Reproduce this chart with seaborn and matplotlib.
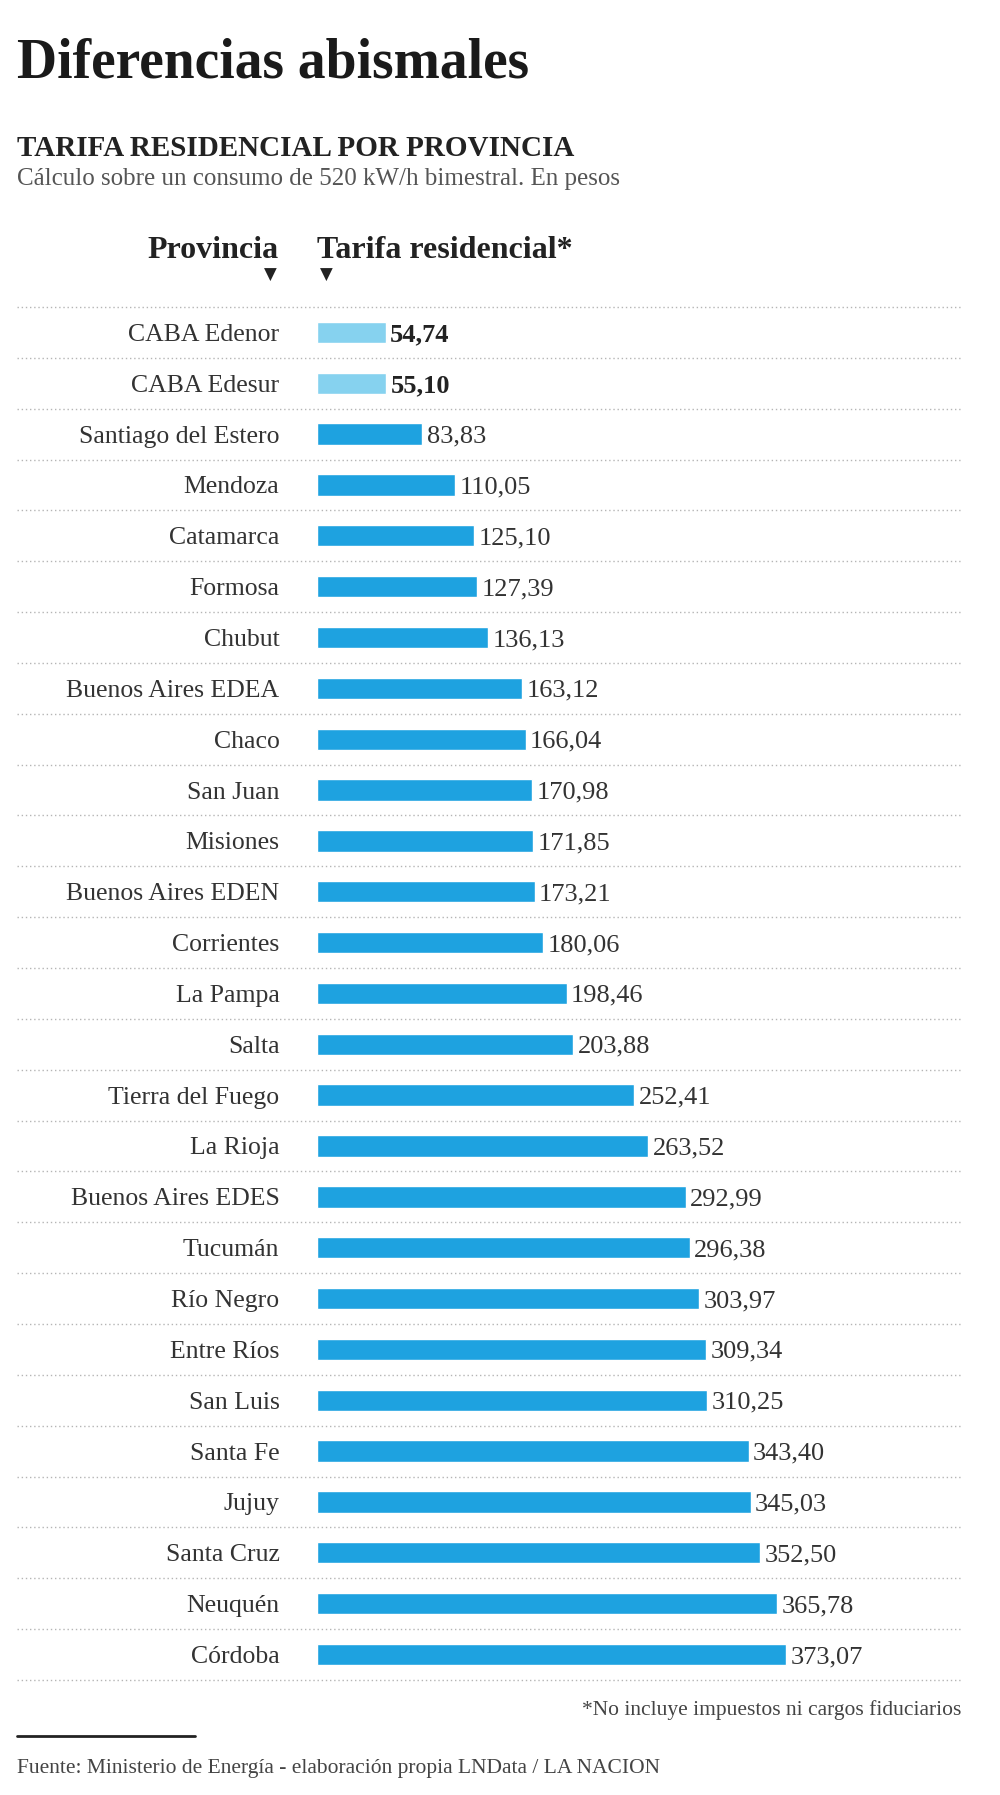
import pandas as pd
import seaborn as sns
import matplotlib.pyplot as plt

# Datos
provincias = ['CABA Edenor', 'CABA Edesur', 'Santiago del Estero', 'Mendoza',
	'Catamarca', 'Formosa', 'Chubut', 'Buenos Aires EDEA', 'Chaco', 'San Juan',
	'Misiones', 'Buenos Aires EDEN', 'Corrientes', 'La Pampa', 'Salta',
	'Tierra del Fuego', 'La Rioja', 'Buenos Aires EDES', 'Tucumán', 'Río Negro',
	'Entre Ríos', 'San Luis', 'Santa Fe', 'Jujuy', 'Santa Cruz', 'Neuquén',
	'Córdoba']
tarifas = [54.74, 55.10, 83.83, 110.05, 125.10, 127.39, 136.13, 163.12, 166.04,
	170.98, 171.85, 173.21, 180.06, 198.46, 203.88, 252.41, 263.52, 292.99,
	296.38, 303.97, 309.34, 310.25, 343.40, 345.03, 352.50, 365.78, 373.07]
grupo = ['CABA'] * 2 + ['Provincia'] * 25

SERIF = ['Liberation Serif', 'DejaVu Serif']
AZUL = '#1ea2e0'
CELESTE = '#86d2ef'
TEXTO = '#333333'

sns.set_theme(style='white')
plt.rcParams['font.family'] = SERIF

df = pd.DataFrame({'Provincia': provincias, 'Tarifa': tarifas, 'Grupo': grupo})

fig = plt.figure(figsize=(10, 17.95), dpi=100)
ax = fig.add_axes([0.317, 0.0641, 0.644, 0.7649])

sns.barplot(data=df, y='Provincia', x='Tarifa', hue='Grupo',
	palette={'CABA': CELESTE, 'Provincia': AZUL}, orient='h',
	width=0.42, dodge=False, legend=False, saturation=1, ax=ax)

ax.set_xlim(0, 512)
ax.set_ylim(len(provincias) - 0.5, -0.5)
ax.set(xlabel='', ylabel='')
ax.set_xticks([])
for s in ax.spines.values():
	s.set_visible(False)
ax.tick_params(axis='y', length=0, pad=27, labelsize=18.5, labelcolor=TEXTO)
for t in ax.get_yticklabels():
	t.set_verticalalignment('center_baseline')

# Etiquetas de valores con coma decimal
for cont in ax.containers:
	vals = cont.datavalues
	labs = [('%.2f' % v).replace('.', ',') for v in vals]
	texts = ax.bar_label(cont, labels=labs, padding=3, fontsize=19,
		color=TEXTO)
	for t, v in zip(texts, vals):
		t.set_verticalalignment('center_baseline')
		if v < 60:
			t.set_fontweight('bold')
			t.set_color('#222222')

# Lineas punteadas separadoras
seps = [i - 0.5 for i in range(len(provincias) + 1)]
ax.hlines(seps, -0.466, 1.0, transform=ax.get_yaxis_transform(),
	colors='#b5b5b5', linestyles=(0, (1, 2)), linewidth=1, clip_on=False)

# Titulos
fig.text(0.017, 0.957, 'Diferencias abismales', fontsize=40,
	fontweight='bold', color='#1a1a1a', va='baseline')
fig.text(0.017, 0.913, 'TARIFA RESIDENCIAL POR PROVINCIA', fontsize=21,
	fontweight='bold', color='#222222', va='baseline')
fig.text(0.017, 0.897,
	'Cálculo sobre un consumo de 520 kW/h bimestral. En pesos',
	fontsize=18, color='#555555', va='baseline')

# Encabezados de columnas
fig.text(0.279, 0.856, 'Provincia', fontsize=23, fontweight='bold',
	color='#222222', ha='right', va='baseline')
fig.text(0.317, 0.856, 'Tarifa residencial*', fontsize=23,
	fontweight='bold', color='#222222', ha='left', va='baseline')
fig.text(0.270, 0.847, '▼', fontsize=12, color='#222222', ha='center',
	va='center', family=['DejaVu Sans'])
fig.text(0.326, 0.847, '▼', fontsize=12, color='#222222', ha='center',
	va='center', family=['DejaVu Sans'])

# Notas
fig.text(0.961, 0.0475, '*No incluye impuestos ni cargos fiduciarios',
	fontsize=15.5, color='#444444', ha='right', va='center')
fig.add_artist(plt.Line2D([0.017, 0.195], [0.033, 0.033], color='#222222',
	linewidth=2))
fig.text(0.017, 0.015,
	'Fuente: Ministerio de Energía - elaboración propia LNData / LA NACION',
	fontsize=15.5, color='#444444', ha='left', va='center')

fig.savefig('out.png', dpi=100, facecolor='white')
